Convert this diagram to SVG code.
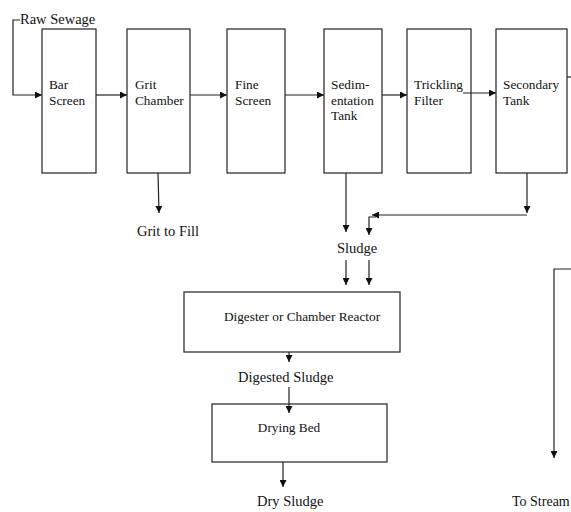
<svg xmlns="http://www.w3.org/2000/svg" width="571" height="512" viewBox="0 0 571 512">
<style>
.box{fill:#fff;stroke:#222;stroke-width:1.2}
.ln{fill:none;stroke:#222;stroke-width:1.2}
text{font-family:"Liberation Serif","Times New Roman",serif;fill:#111}
.t{font-size:13.3px}
.l{font-size:14.5px}
</style>
<defs>
<marker id="ah" viewBox="0 0 10 10" refX="10" refY="5" markerWidth="7" markerHeight="7" markerUnits="userSpaceOnUse" orient="auto">
<path d="M0,0 L10,5 L0,10 z" fill="#111"/>
</marker>
</defs>
<rect width="571" height="512" fill="#fff"/>
<g id="raw-sewage"><text class="l" x="20" y="24">Raw Sewage</text></g>
<g id="bar-screen">
<rect class="box" x="42" y="29" width="54" height="144"/>
<text class="t" x="49" y="89">Bar</text>
<text class="t" x="49" y="105">Screen</text>
</g>
<g id="grit-chamber">
<rect class="box" x="127" y="29" width="63" height="144"/>
<text class="t" x="135" y="89">Grit</text>
<text class="t" x="135" y="105">Chamber</text>
</g>
<g id="fine-screen">
<rect class="box" x="227" y="29" width="58" height="144"/>
<text class="t" x="235" y="89">Fine</text>
<text class="t" x="235" y="105">Screen</text>
</g>
<g id="sedimentation-tank">
<rect class="box" x="324" y="29" width="58" height="144"/>
<text class="t" x="331" y="89">Sedim-</text>
<text class="t" x="331" y="105">entation</text>
<text class="t" x="331" y="120">Tank</text>
</g>
<g id="trickling-filter">
<rect class="box" x="407" y="29" width="64" height="144"/>
<text class="t" x="414" y="89">Trickling</text>
<text class="t" x="414" y="105">Filter</text>
</g>
<g id="secondary-tank">
<rect class="box" x="496" y="29" width="71" height="144"/>
<text class="t" x="503" y="89">Secondary</text>
<text class="t" x="503" y="105">Tank</text>
</g>
<g id="grit-to-fill"><text class="l" x="137" y="236">Grit to Fill</text></g>
<g id="sludge"><text class="l" x="337" y="253">Sludge</text></g>
<g id="digester">
<rect class="box" x="184" y="292" width="216" height="60"/>
<text class="t" x="302" y="321" text-anchor="middle">Digester or Chamber Reactor</text>
</g>
<g id="digested-sludge"><text class="l" x="238" y="382">Digested Sludge</text></g>
<g id="drying-bed">
<rect class="box" x="212" y="404" width="175" height="58"/>
<text class="t" x="289" y="432" text-anchor="middle">Drying Bed</text>
</g>
<g id="dry-sludge"><text class="l" x="257" y="506">Dry Sludge</text></g>
<g id="to-stream"><text class="l" x="512" y="506" style="font-size:14px">To Stream</text></g>
<g id="connectors">
<path class="ln" d="M20,20 H13 V95 H42" marker-end="url(#ah)"/>
<path class="ln" d="M96,95 H127" marker-end="url(#ah)"/>
<path class="ln" d="M190,95 H227" marker-end="url(#ah)"/>
<path class="ln" d="M285,95 H324" marker-end="url(#ah)"/>
<path class="ln" d="M382,95 H407" marker-end="url(#ah)"/>
<path class="ln" d="M463,93 H496" marker-end="url(#ah)"/>
<path class="ln" d="M567,77 H571"/>
<path class="ln" d="M158,173 L159,213" marker-end="url(#ah)"/>
<path class="ln" d="M346,173 V232" marker-end="url(#ah)"/>
<path class="ln" d="M527,173 V213" marker-end="url(#ah)"/>
<path class="ln" d="M527,215 H372" marker-end="url(#ah)"/>
<path class="ln" d="M376,217 H369 V235" marker-end="url(#ah)"/>
<path class="ln" d="M346,260 V285" marker-end="url(#ah)"/>
<path class="ln" d="M369,260 V285" marker-end="url(#ah)"/>
<path class="ln" d="M289,352 V362" marker-end="url(#ah)"/>
<path class="ln" d="M289,387 V413" marker-end="url(#ah)"/>
<path class="ln" d="M283,462 V487" marker-end="url(#ah)"/>
<path class="ln" d="M571,269 H554 V458" marker-end="url(#ah)"/>
</g>
</svg>
